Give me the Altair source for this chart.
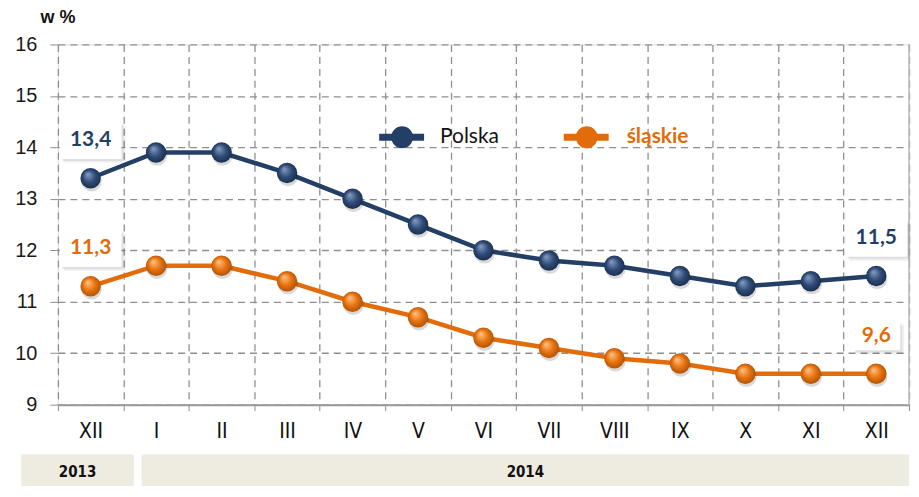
import json
import altair as alt
import pandas as pd

months = ["XII", "I", "II", "III", "IV", "V", "VI", "VII", "VIII", "IX", "X", "XI", "XII"]
polska = [13.4, 13.9, 13.9, 13.5, 13.0, 12.5, 12.0, 11.8, 11.7, 11.5, 11.3, 11.4, 11.5]
slaskie = [11.3, 11.7, 11.7, 11.4, 11.0, 10.7, 10.3, 10.1, 9.9, 9.8, 9.6, 9.6, 9.6]
series_names = ["Polska", "śląskie"]
years = ["2013", "2014"]
y_ticks = [9, 10, 11, 12, 13, 14, 15, 16]

NAVY = "#243F66"
ORANGE = "#E36C0A"
GRID = "#8f8f8f"
NARROW = "Liberation Sans Narrow, Arial Narrow, DejaVu Sans Condensed, sans-serif"
LABELF = "Lato, Open Sans, sans-serif"

rows = []
for name, vals in zip(series_names, [polska, slaskie]):
    for i, v in enumerate(vals):
        rows.append({"idx": i + 0.5, "value": v, "series": name})
df = pd.DataFrame(rows)

lab_rows = []
for name, vals in zip(series_names, [polska, slaskie]):
    for i in [0, len(vals) - 1]:
        txt = f"{vals[i]:.1f}".replace(".", ",")
        lab_rows.append({"idx": i + 0.5, "value": vals[i], "series": name,
                         "text": txt, "bw": (len(txt) * 14 + 6) ** 2})
labdf = pd.DataFrame(lab_rows)

# year band spans (in month-slot units)
yeardf = pd.DataFrame({"year": years, "start": [-0.56, 1.28], "end": [1.16, 13.0]})
yeardf["mid"] = (yeardf["start"] + yeardf["end"]) / 2

label_expr = "datum.value < 13 ? " + json.dumps(months) + "[datum.value] : ''"

xscale = alt.Scale(domain=[0, 13], nice=False, zero=False)
yscale = alt.Scale(domain=[9, 16], nice=False, zero=False)
cscale = alt.Scale(domain=series_names, range=[NAVY, ORANGE])

xaxis = alt.Axis(values=list(range(14)), labelExpr=label_expr, labelOffset=32.8,
                 labelFlush=False, labelOverlap=False, labelBound=False,
                 grid=True, gridDash=[7, 5], gridColor=GRID, gridWidth=1.3,
                 ticks=True, tickSize=6, tickColor=GRID, domainColor="#999999", domainWidth=2,
                 labelFont=NARROW, labelFontSize=21, labelColor="#111111", labelPadding=10,
                 title=None)
yaxis = alt.Axis(values=y_ticks, format="d", grid=True, gridDash=[7, 5], gridColor=GRID, gridWidth=1.3,
                 domain=False, ticks=True, tickSize=8, tickColor=GRID,
                 labelFont="Liberation Sans, Arial, sans-serif", labelFontSize=20,
                 labelColor="#1a1a1a", labelPadding=13,
                 title="w %", titleAngle=0, titleAlign="left", titleBaseline="middle",
                 titleX=-18, titleY=-27, titleFontSize=18, titleFontWeight="bold",
                 titleFont="Liberation Sans, Arial, sans-serif", titleColor="#111111")

base = alt.Chart(df)

lines = base.mark_line(strokeWidth=4.5).encode(
    x=alt.X("idx:Q", scale=xscale, axis=xaxis),
    y=alt.Y("value:Q", scale=yscale, axis=yaxis),
    color=alt.Color("series:N", scale=cscale, legend=None),
    detail="series:N",
)

def grad(light, mid, dark):
    return alt.RadialGradient(gradient="radial", x1=0.35, y1=0.3, r1=0, x2=0.5, y2=0.5, r2=0.55,
                              stops=[alt.GradientStop(offset=0, color=light),
                                     alt.GradientStop(offset=0.55, color=mid),
                                     alt.GradientStop(offset=1, color=dark)])

shadow = base.mark_point(filled=True, size=420, opacity=0.15, color="#000000", yOffset=3, xOffset=1).encode(
    x="idx:Q", y="value:Q")

pts_p = base.transform_filter(alt.datum.series == "Polska").mark_point(
    filled=True, size=420, opacity=1, fill=grad("#8aa0c4", "#2f4c78", "#172b48"), strokeWidth=0
).encode(x="idx:Q", y="value:Q")
pts_s = base.transform_filter(alt.datum.series == "śląskie").mark_point(
    filled=True, size=420, opacity=1, fill=grad("#ffc58a", "#e8730e", "#a84f05"), strokeWidth=0
).encode(x="idx:Q", y="value:Q")

box_shape = "M-1,-0.6L1,-0.6L1,0.6L-1,0.6Z"
labbase = alt.Chart(labdf)
lab_shadow1 = labbase.mark_point(shape=box_shape, filled=True, color="#000000", opacity=0.06,
                                 yOffset=-34, xOffset=4).encode(
    x="idx:Q", y="value:Q", size=alt.Size("bw:Q", scale=None, legend=None))
lab_shadow2 = labbase.mark_point(shape=box_shape, filled=True, color="#000000", opacity=0.07,
                                 yOffset=-36, xOffset=2).encode(
    x="idx:Q", y="value:Q", size=alt.Size("bw:Q", scale=None, legend=None))
lab_box = labbase.mark_point(shape=box_shape, filled=True, color="#ffffff", opacity=1,
                             yOffset=-38).encode(
    x="idx:Q", y="value:Q", size=alt.Size("bw:Q", scale=None, legend=None))
lab_text = labbase.mark_text(font=LABELF, fontSize=21, fontWeight="bold", dy=-38,
                             baseline="middle").encode(
    x="idx:Q", y="value:Q", text="text:N",
    color=alt.Color("series:N", scale=cscale, legend=None))

edge = alt.Chart(pd.DataFrame({"x": [13], "y": [9], "y2": [16]})).mark_rule(
    color="#bdbdbd", strokeWidth=1.5).encode(x="x:Q", y="y:Q", y2="y2:Q")

ybox = alt.Chart(yeardf).mark_rect(color="#EEEBE1").encode(
    x="start:Q", x2="end:Q", y=alt.value(411), y2=alt.value(445))
ytext = alt.Chart(yeardf).mark_text(font=NARROW, fontSize=15, fontWeight="bold",
                                    color="#111111", baseline="middle").encode(
    x="mid:Q", y=alt.value(429), text="year:N")

one = alt.Chart(pd.DataFrame({"k": [0]}))
leg = [
    one.mark_rule(color=NAVY, strokeWidth=7).encode(x=alt.value(322), x2=alt.value(367), y=alt.value(93)),
    one.mark_point(filled=True, size=480, color=NAVY, opacity=1).encode(x=alt.value(345), y=alt.value(93)),
    one.mark_text(align="left", baseline="middle", fontSize=21, font=LABELF, color="#111111").encode(
        x=alt.value(383), y=alt.value(93), text=alt.value("Polska")),
    one.mark_rule(color=ORANGE, strokeWidth=7).encode(x=alt.value(507), x2=alt.value(552), y=alt.value(93)),
    one.mark_point(filled=True, size=480, color=ORANGE, opacity=1).encode(x=alt.value(530), y=alt.value(93)),
    one.mark_text(align="left", baseline="middle", fontSize=21, font=LABELF, fontWeight="bold",
                  color=ORANGE).encode(x=alt.value(570), y=alt.value(93), text=alt.value("śląskie")),
]

chart = alt.layer(
    lines, edge, shadow, pts_p, pts_s, lab_shadow1, lab_shadow2, lab_box, lab_text, ybox, ytext, *leg
).properties(
    width=853, height=361,
    autosize=alt.AutoSizeParams(type="none"),
    padding={"left": 50, "top": 36, "right": 2, "bottom": 81},
).configure_view(stroke=None).configure(background="#ffffff")

chart.save("out.html", embed_options={"renderer": "svg", "actions": False})
